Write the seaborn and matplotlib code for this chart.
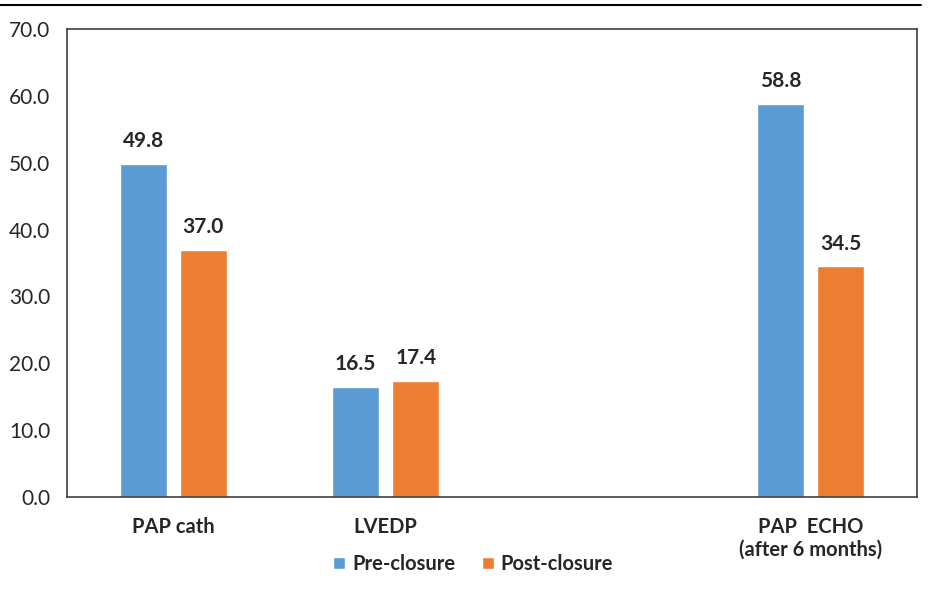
import pandas as pd
import matplotlib.pyplot as plt
import seaborn as sns
from matplotlib.lines import Line2D

categories = ["PAP cath", "LVEDP", " ", "PAP  ECHO\n(after 6 months)"]
measured = ["PAP cath", "LVEDP", "PAP  ECHO\n(after 6 months)"]
pre_closure = [49.8, 16.5, 58.8]
post_closure = [37.0, 17.4, 34.5]

df = pd.DataFrame({
    'parametro': measured * 2,
    'valor': pre_closure + post_closure,
    'grupo': ['Pre-closure'] * 3 + ['Post-closure'] * 3,
})

sns.set_style('white')
plt.rcParams['font.family'] = ['Lato', 'DejaVu Sans']

fig = plt.figure(figsize=(9.3, 5.89), dpi=100)
ax = fig.add_axes([0.072, 0.156, 0.914, 0.795])

sns.barplot(data=df, x='parametro', y='valor', hue='grupo', order=categories,
            hue_order=['Pre-closure', 'Post-closure'],
            palette=['#5B9BD5', '#ED7D31'], width=0.565, gap=0.22,
            saturation=1, errorbar=None, ax=ax)

for cont in ax.containers:
    ax.bar_label(cont, fmt='%.1f', padding=9, fontsize=15, fontweight='bold')

ax.set_ylim(0, 70)
ax.set_yticks(range(0, 71, 10))
ax.set_yticklabels([f'{v:.1f}' for v in range(0, 71, 10)], fontsize=15)
ax.tick_params(axis='y', length=0, pad=12)
ax.tick_params(axis='x', length=0, pad=14)
for lab in ax.get_xticklabels():
    lab.set_fontweight('bold')
    lab.set_fontsize(14.5)
ax.set_xlabel('')
ax.set_ylabel('')
for s in ax.spines.values():
    s.set_color('#404040')
    s.set_linewidth(1.2)

ax.legend(loc='upper center', bbox_to_anchor=(0.478, -0.083), ncol=2, frameon=False,
          prop={'weight': 'bold', 'size': 14.5}, handlelength=0.6, handleheight=0.6,
          handletextpad=0.35, columnspacing=1.3)

fig.add_artist(Line2D([0, 0.99], [0.991, 0.991], color='black', lw=1.5, transform=fig.transFigure))

plt.savefig('out.png', dpi=100)
